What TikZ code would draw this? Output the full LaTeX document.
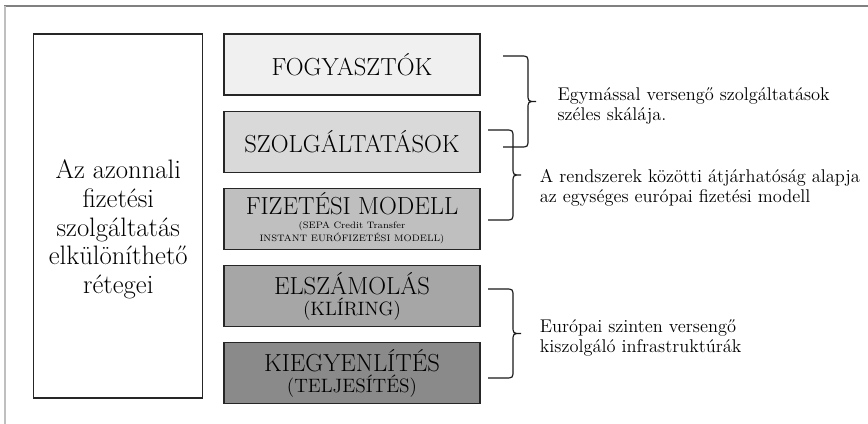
\documentclass[tikz,border=0pt]{standalone}
\usepackage{fontspec}
\usetikzlibrary{positioning}

% curly brace: #1 left x, #2 top y, #3 bottom y, #4 arm length, #5 cusp name
\newcommand{\layerbrace}[5]{%
  \draw[bracepath] (#1,#2) -- ({#1+#4-8},#2) .. controls ({#1+#4},#2) .. ({#1+#4},{#2+8})
    -- ({#1+#4},{(#2+#3)/2-8}) .. controls ({#1+#4},{(#2+#3)/2}) .. ({#1+#4+8},{(#2+#3)/2})
    .. controls ({#1+#4},{(#2+#3)/2}) .. ({#1+#4},{(#2+#3)/2+8})
    -- ({#1+#4},{#3-8}) .. controls ({#1+#4},#3) .. ({#1+#4-8},#3) -- (#1,#3);
  \coordinate (#5) at ({#1+#4+8},{(#2+#3)/2});
}

\begin{document}
\begin{tikzpicture}[x=0.75pt, y=-0.75pt,
  layerbox/.style={draw=black!85, line width=0.9pt, align=center, minimum width=192pt, minimum height=45.75pt, inner sep=1pt, font=\fontsize{18.5}{20}\selectfont},
  leftbox/.style={draw=black!85, line width=0.9pt, minimum width=126.75pt, minimum height=273pt},
  lefttext/.style={align=center, inner sep=0pt, font=\fontsize{20}{21.4}\selectfont},
  note/.style={align=left, anchor=west, inner sep=0pt, font=\fontsize{13.8}{15}\selectfont},
  bracepath/.style={line width=0.9pt, black!90}]
\useasboundingbox (0,0) rectangle (868,424);
% frame
\draw[black!50, line width=0.8pt] (4,6) -- (868,6);
\draw[black!25, line width=0.8pt] (5,6) -- (5,424);
% layers
\node[layerbox, fill=black!6] (fogy) at (352,64.5) {FOGYASZTÓK};
\node[layerbox, fill=black!15, below=11.25pt of fogy] (szolg) {SZOLGÁLTATÁSOK};
\node[layerbox, fill=black!25, below=11.25pt of szolg] (modell) {FIZETÉSI MODELL\\[-10pt]
  {\fontsize{7}{9.75}\selectfont\begin{tabular}[t]{@{}c@{}}(SEPA Credit Transfer\\
  INSTANT EURÓFIZETÉSI MODELL)\end{tabular}}};
\node[layerbox, fill=black!35, below=11.25pt of modell] (elsz) {ELSZÁMOLÁS\\[-4pt]
  {\fontsize{14.5}{16}\selectfont (KLÍRING)}};
\node[layerbox, fill=black!46, below=11.25pt of elsz] (kiegy) {KIEGYENLÍTÉS\\[-4pt]
  {\fontsize{14.5}{16}\selectfont (TELJESÍTÉS)}};
\node[leftbox, anchor=north east] (layers) at ([xshift=-15pt]fogy.north west) {};
\node[lefttext] (layersTxt) at ([yshift=-10pt]layers.center)
  {Az azonnali\\fizetési\\szolgáltatás\\elkülöníthető\\rétegei};
% braces
\layerbrace{503}{56}{147}{25}{cuspA}
\layerbrace{488}{130}{220}{25}{cuspB}
\layerbrace{488}{289}{378}{25}{cuspC}
% notes
\node[note, right=16pt of cuspA, yshift=-3.6pt] (choice) {Egymással versengő szolgáltatások\\széles skálája.};
\node[note, right=14pt of cuspB, yshift=-9.5pt] (interop) {A rendszerek közötti átjárhatóság alapja\\az egységes európai fizetési modell};
\node[note, right=14pt of cuspC, yshift=-3.5pt] (infra) {Európai szinten versengő\\kiszolgáló infrastruktúrák};
\end{tikzpicture}
\end{document}
